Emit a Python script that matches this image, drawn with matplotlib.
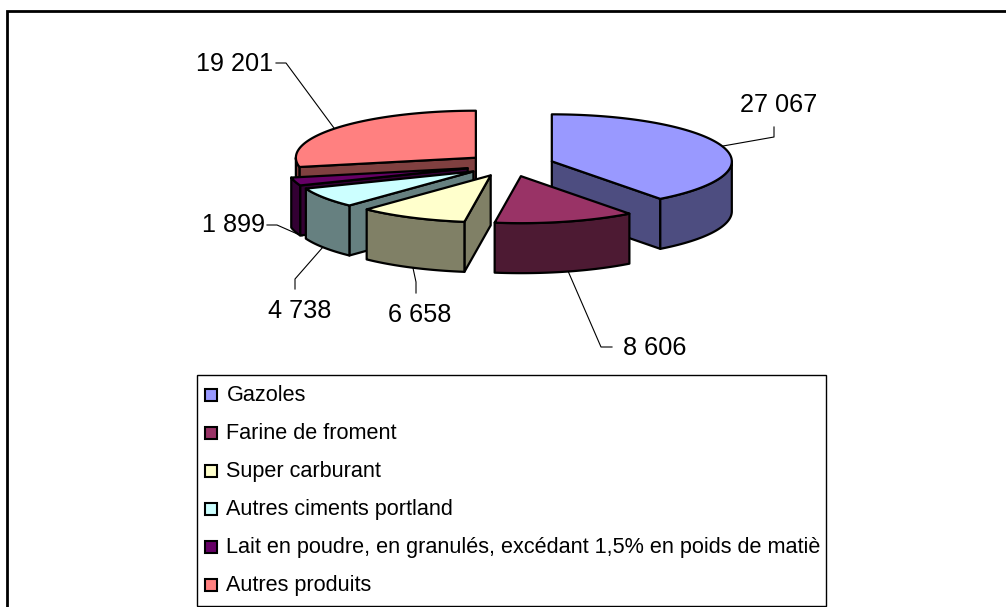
import numpy as np
import matplotlib
matplotlib.use('Agg')
import matplotlib.pyplot as plt
from matplotlib.patches import Polygon, Rectangle

plt.rcParams['font.family'] = ['Liberation Sans', 'DejaVu Sans']

# donnees
produits = ['Gazoles', 'Farine de froment', 'Super carburant', 'Autres ciments portland',
            'Lait en poudre, en granulés, excédant 1,5% en poids de matiè', 'Autres produits']
valeurs = [27067, 8606, 6658, 4738, 1899, 19201]
etiquettes = ['27 067', '8 606', '6 658', '4 738', '1 899', '19 201']
couleurs = ['#9999FF', '#993366', '#FFFFCC', '#CCFFFF', '#660066', '#FF8080']
sombres = ['#4D4D80', '#4D1A33', '#808066', '#668080', '#330033', '#804040']

# geometrie du camembert, en pixels
cx, cy = 510, 165
rx, ry = 180, 47
ep = 50
explode = 0.245

fig = plt.figure(figsize=(10.06, 6.07), dpi=100)
ax = fig.add_axes([0, 0, 1, 1])
ax.set_xlim(0, 1006)
ax.set_ylim(607, 0)
ax.axis('off')

# cadre du graphique : seulement haut et gauche dans l'image
ax.plot([7, 7, 1006], [607, 11, 11], color='black', lw=2, solid_joinstyle='miter')

bornes = np.cumsum([0] + valeurs) / sum(valeurs) * 360


def point(ax0, ay0, t):
    t = np.radians(t)
    return ax0 + rx * np.sin(t), ay0 - ry * np.cos(t)


def face(pts, col, z):
    ax.add_patch(Polygon(pts, closed=True, facecolor=col, edgecolor='black', lw=1.6, zorder=z,
                         joinstyle='round'))


# ordre de dessin : du fond vers l'avant
ordre = [5, 4, 3, 2, 0, 1]
for n, i in enumerate(ordre):
    a, b = bornes[i], bornes[i + 1]
    mid = np.radians((a + b) / 2)
    ox = cx + explode * rx * np.sin(mid)
    oy = cy - explode * ry * np.cos(mid)
    z = 2 + n
    # faces radiales visibles
    for t, visible in ((a, np.sin(np.radians(a)) < 0), (b, np.sin(np.radians(b)) > 0)):
        if visible:
            x, y = point(ox, oy, t)
            face([(ox, oy), (x, y), (x, y + ep), (ox, oy + ep)], sombres[i], z)
    # bord exterieur visible (moitie avant)
    t0, t1 = max(a, 90), min(b, 270)
    if t1 > t0:
        ts = np.linspace(t0, t1, 60)
        xs, ys = point(ox, oy, ts)
        face(list(zip(xs, ys)) + list(zip(xs[::-1], ys[::-1] + ep)), sombres[i], z)
    # dessus
    ts = np.linspace(a, b, 120)
    xs, ys = point(ox, oy, ts)
    face([(ox, oy)] + list(zip(xs, ys)), couleurs[i], z)

# traits de rappel
rappels = [[(723, 146), (774, 137), (774, 127)],
           [(568, 271), (601, 347), (612, 347)],
           [(413, 268), (416, 282), (416, 293)],
           [(323, 247), (295, 279), (295, 289)],
           [(267, 225), (277, 225), (302, 236)],
           [(276, 63), (286, 63), (334, 128)]]
for r in rappels:
    xs, ys = zip(*r)
    ax.plot(xs, ys, color='black', lw=0.8, zorder=1)

pos_etiq = [(779, 112), (655, 355), (420, 322), (300, 318), (234, 232), (235, 71)]
for lab, (x, y) in zip(etiquettes, pos_etiq):
    ax.text(x, y, lab, fontsize=18.2, ha='center', va='baseline', color='black')

# legende
ax.add_patch(Rectangle((197, 375), 629, 231, facecolor='white', edgecolor='black', lw=1, zorder=20))
for k, nom in enumerate(produits):
    y = 401 + k * 38
    ax.add_patch(Rectangle((205.5, y - 12), 12, 12, facecolor=couleurs[k], edgecolor='black', lw=1.5, zorder=21))
    ax.text(226.5, y, nom, fontsize=15.6, ha='left', va='baseline', color='black', zorder=21)

fig.savefig('out.png', dpi=100)
